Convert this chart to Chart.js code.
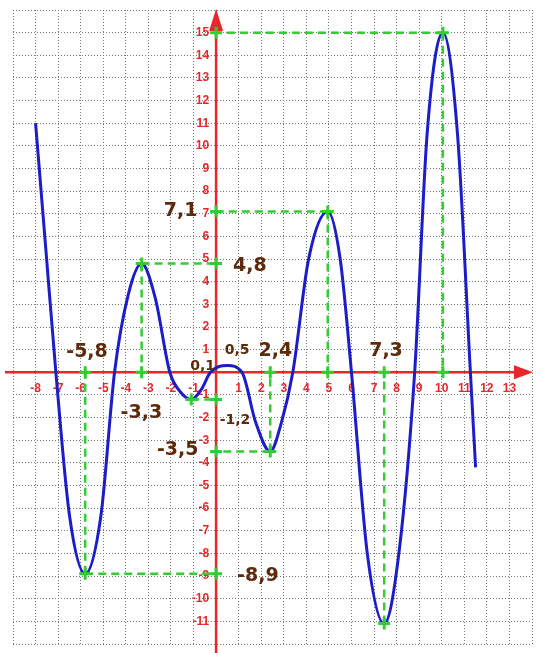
<!DOCTYPE html>
<html>
<head>
<meta charset="utf-8">
<script src="https://cdn.jsdelivr.net/npm/chart.js@4.4.0/dist/chart.umd.min.js"></script>
<style>
  html, body { margin: 0; padding: 0; background: #fff; }
  canvas { display: block; }
</style>
</head>
<body>
<canvas id="graph" width="541" height="653"></canvas>
<script>
// points
const curveX = [-8, -7.55, -7.1, -6.5, -5.8, -5.1, -4.5, -3.9, -3.3, -2.7, -2.05, -1.6, -1.1, -0.65, -0.25, 0.5, 1.15, 1.75, 2.4, 2.9, 3.4, 4.1, 4.95, 5.5, 6.0, 6.7, 7.45, 8.1, 8.8, 9.35, 10.05, 10.7, 11.27, 11.5];
const curveY = [11, 5.5, 0, -6.3, -8.9, -6.3, 0, 3.4, 4.8, 3.3, 0, -0.85, -1.2, -0.75, 0, 0.3, 0, -2.2, -3.5, -2.2, 0, 5, 7.1, 5, 0, -8, -11.1, -8, 0, 10.5, 15, 10.5, 0, -4.2];

// extrema and their green guides
const extremaX = [-5.8, -3.3, -1.1, 2.4, 4.95, 7.45, 10.05];
const extremaY = [-8.9, 4.8, -1.2, -3.5, 7.1, -11.1, 15];
const guideToYAxis = [true, true, true, true, true, false, true];
const guideToXAxis = [true, true, false, true, true, true, true];

// axis tick labels
const xTicks = [-8, -7, -6, -5, -4, -3, -2, -1, 1, 2, 3, 4, 5, 6, 7, 8, 9, 10, 11, 12, 13];
const yTicks = [-11, -10, -9, -8, -7, -6, -5, -4, -3, -2, -1, 1, 2, 3, 4, 5, 6, 7, 8, 9, 10, 11, 12, 13, 14, 15];

// brown value labels (anchored in graph units)
const noteText = ["-5,8", "-3,3", "4,8", "7,1", "0,1", "0,5", "-1,2", "2,4", "-3,5", "7,3", "-8,9"];
const noteX = [-5.72, -3.31, 1.5, -1.57, -0.6, 0.93, 0.84, 2.63, -1.7, 7.53, 1.85];
const noteY = [0.9, -1.82, 4.67, 7.13, 0.24, 0.99, -2.13, 0.94, -3.44, 0.94, -9.02];
const noteSmall = [false, false, false, false, true, true, true, false, false, false, false];

const RED = "#e8262b";
const GREEN = "#33cc33";
const BLUE = "#1c1cc8";
const BROWN = "#5e2a0c";

const ctx = document.getElementById("graph").getContext("2d");

const curveData = curveX.map((x, i) => ({ x, y: curveY[i] }));

const guideSets = [];
const crossPts = [];
extremaX.forEach((x, i) => {
    const y = extremaY[i];
    crossPts.push({ x, y });
    if (guideToYAxis[i]) {
        guideSets.push([{ x, y }, { x: 0, y }]);
        crossPts.push({ x: 0, y });
    }
    if (guideToXAxis[i]) {
        guideSets.push([{ x, y }, { x, y: 0 }]);
        crossPts.push({ x, y: 0 });
    }
});

const datasets = [{
    data: curveData,
    borderColor: BLUE,
    borderWidth: 3,
    pointRadius: 0,
    cubicInterpolationMode: "monotone",
    order: 2
}];

guideSets.forEach(seg => {
    datasets.push({
        data: seg,
        borderColor: GREEN,
        borderWidth: 2.5,
        borderDash: [8, 5],
        pointRadius: 0,
        order: 1
    });
});

datasets.push({
    data: crossPts,
    showLine: false,
    pointStyle: "cross",
    pointRadius: 6,
    pointBorderWidth: 3,
    pointBorderColor: GREEN,
    order: 0
});

const axesPlugin = {
    id: "axes",
    beforeDatasetsDraw(chart) {
        const { ctx, chartArea, scales: { x, y } } = chart;
        const x0 = x.getPixelForValue(0);
        const y0 = y.getPixelForValue(0);
        ctx.save();
        ctx.strokeStyle = RED;
        ctx.fillStyle = RED;
        ctx.lineWidth = 2.5;
        ctx.beginPath();
        ctx.moveTo(chartArea.left - 8, y0);
        ctx.lineTo(chartArea.right - 12, y0);
        ctx.moveTo(x0, chart.height);
        ctx.lineTo(x0, chartArea.top + 14);
        ctx.stroke();
        // arrow heads
        ctx.beginPath();
        ctx.moveTo(chartArea.right + 1, y0);
        ctx.lineTo(chartArea.right - 18, y0 - 7);
        ctx.lineTo(chartArea.right - 18, y0 + 7);
        ctx.closePath();
        ctx.fill();
        ctx.beginPath();
        ctx.moveTo(x0, chartArea.top - 1);
        ctx.lineTo(x0 - 7, chartArea.top + 21);
        ctx.lineTo(x0 + 7, chartArea.top + 21);
        ctx.closePath();
        ctx.fill();

        ctx.font = "bold 12px 'Liberation Sans', Arial, sans-serif";
        ctx.textAlign = "center";
        ctx.textBaseline = "middle";
        xTicks.forEach(v => ctx.fillText(String(v), x.getPixelForValue(v), y0 + 16));
        ctx.textAlign = "right";
        yTicks.forEach(v => ctx.fillText(String(v), x0 - 7, y.getPixelForValue(v)));
        ctx.restore();
    },
    afterDraw(chart) {
        const { ctx, scales: { x, y } } = chart;
        ctx.save();
        ctx.fillStyle = BROWN;
        ctx.textAlign = "center";
        ctx.textBaseline = "middle";
        noteText.forEach((t, i) => {
            ctx.font = noteSmall[i]
                ? "bold 14px 'DejaVu Sans', sans-serif"
                : "bold 19px 'DejaVu Sans', sans-serif";
            ctx.fillText(t, x.getPixelForValue(noteX[i]), y.getPixelForValue(noteY[i]));
        });
        ctx.restore();
    }
};

const gridOpts = {
    color: "#777",
    lineWidth: 1,
    drawTicks: false
};

new Chart(ctx, {
    type: "line",
    data: { datasets },
    options: {
        responsive: false,
        animation: false,
        layout: { padding: { left: 13, right: 2, top: 10, bottom: 5 } },
        plugins: { legend: { display: false }, tooltip: { enabled: false } },
        scales: {
            x: {
                type: "linear",
                min: -9,
                max: 14,
                ticks: { display: false, stepSize: 1 },
                grid: gridOpts,
                border: { display: false, dash: [1, 2] }
            },
            y: {
                type: "linear",
                min: -12,
                max: 16,
                ticks: { display: false, stepSize: 1 },
                grid: gridOpts,
                border: { display: false, dash: [1, 2] }
            }
        }
    },
    plugins: [axesPlugin]
});
</script>
</body>
</html>
